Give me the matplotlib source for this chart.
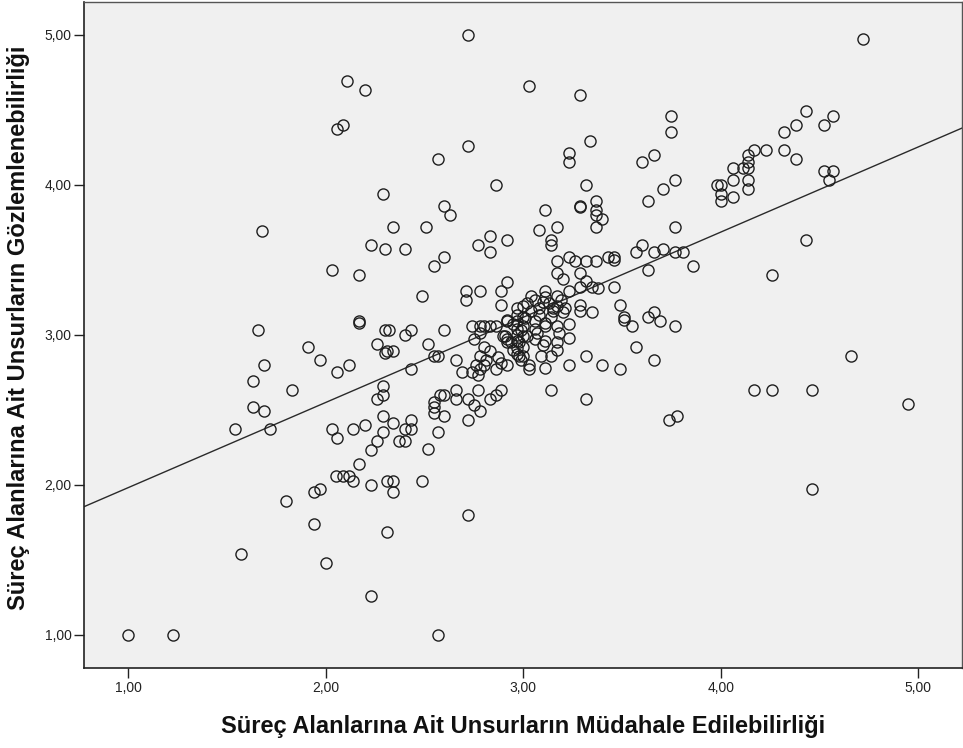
import matplotlib
matplotlib.use('Agg')
import matplotlib.pyplot as plt
import numpy as np
from matplotlib.ticker import FuncFormatter

# scatter values, grouped by region (x, y)
pts_high = [
    (2.11, 4.69), (2.20, 4.63), (2.09, 4.40), (2.06, 4.37), (2.29, 3.94), (1.68, 3.69),
    (2.72, 5.00), (3.03, 4.66), (3.29, 4.60), (3.75, 4.46), (3.75, 4.35), (2.72, 4.26),
    (2.57, 4.17), (3.34, 4.29), (3.23, 4.21), (3.23, 4.15), (3.60, 4.15), (3.66, 4.20),
    (2.86, 4.00), (3.32, 4.00), (2.60, 3.86), (2.63, 3.80), (3.11, 3.83), (3.29, 3.86),
    (3.29, 3.85), (3.37, 3.89), (3.37, 3.83), (3.37, 3.80), (3.40, 3.77), (3.63, 3.89),
    (3.71, 3.97), (3.77, 4.03), (2.34, 3.72), (2.51, 3.72), (3.08, 3.70), (3.17, 3.72),
    (3.37, 3.72), (3.77, 3.72),
    (4.72, 4.97), (4.43, 4.49), (4.38, 4.40), (4.32, 4.35), (4.52, 4.40), (4.57, 4.46),
    (4.23, 4.23), (4.32, 4.23), (4.38, 4.17), (4.17, 4.23), (4.14, 4.20), (4.14, 4.15),
    (4.14, 4.11), (4.11, 4.11), (4.06, 4.11), (4.06, 4.03), (4.14, 4.03), (4.14, 3.97),
    (3.98, 4.00), (4.00, 4.00), (4.00, 3.94), (4.00, 3.89), (4.06, 3.92), (4.52, 4.09),
    (4.57, 4.09), (4.55, 4.03),
    (2.23, 3.60), (2.30, 3.57), (2.40, 3.57), (2.83, 3.66), (2.77, 3.60), (2.83, 3.55),
    (2.92, 3.63), (3.14, 3.63), (3.14, 3.60), (3.60, 3.60), (3.66, 3.55), (3.71, 3.57),
    (3.77, 3.55), (3.57, 3.55), (3.81, 3.55), (4.43, 3.63),
]

pts_mid = [
    (2.03, 3.43), (2.17, 3.40), (2.17, 3.09), (2.17, 3.08), (2.30, 3.03), (2.26, 2.94),
    (2.30, 2.88), (1.66, 3.03), (1.91, 2.92), (1.97, 2.83), (2.06, 2.75), (2.12, 2.80),
    (1.69, 2.80), (1.63, 2.69), (1.83, 2.63), (1.63, 2.52), (1.69, 2.49), (1.54, 2.37),
    (1.72, 2.37), (2.03, 2.37), (2.06, 2.31), (2.14, 2.37), (2.20, 2.40), (2.29, 2.66),
    (2.29, 2.60), (2.26, 2.57), (2.29, 2.46), (2.29, 2.35), (2.26, 2.29), (2.23, 2.23),
    (2.55, 3.46), (2.60, 3.52), (2.49, 3.26), (2.71, 3.29), (2.71, 3.23), (2.78, 3.29),
    (2.89, 3.29), (2.92, 3.35), (2.89, 3.20),
    (3.17, 3.49), (3.23, 3.52), (3.26, 3.49), (3.32, 3.49), (3.37, 3.49), (3.43, 3.52),
    (3.46, 3.52), (3.46, 3.50), (3.17, 3.41), (3.20, 3.37), (3.29, 3.41), (3.32, 3.36),
    (3.35, 3.32), (3.38, 3.31), (3.29, 3.32), (3.23, 3.29), (3.46, 3.32), (3.49, 3.20),
    (3.51, 3.12), (3.51, 3.10), (3.55, 3.06), (3.63, 3.43), (3.63, 3.12), (3.66, 3.15),
    (3.69, 3.09), (3.77, 3.06), (3.57, 2.92), (3.66, 2.83), (3.49, 2.77), (3.40, 2.80),
    (3.32, 2.86), (3.23, 2.80), (3.14, 2.63), (3.32, 2.57), (3.74, 2.43), (3.78, 2.46),
    (3.29, 3.20), (3.29, 3.16), (3.35, 3.15), (3.86, 3.46), (4.26, 3.40), (4.66, 2.86),
    (4.17, 2.63), (4.26, 2.63), (4.46, 2.63), (4.95, 2.54), (4.46, 1.97),
]

pts_core = [
    (3.11, 3.29), (3.17, 3.26), (3.06, 3.23), (3.02, 3.21), (3.11, 3.25), (3.13, 3.21),
    (3.17, 3.19), (3.08, 3.18), (3.15, 3.16), (3.20, 3.15), (3.14, 3.12), (3.11, 3.08),
    (2.97, 3.18), (2.97, 3.13), (2.97, 3.09), (2.97, 3.04), (2.97, 3.00), (2.97, 2.96),
    (2.97, 2.91), (2.97, 2.87),
    (3.00, 3.19), (3.00, 3.12), (3.00, 3.06), (3.00, 2.99), (3.00, 2.92), (3.00, 2.86),
    (3.06, 3.09), (3.06, 3.04), (3.06, 2.97), (3.02, 2.99), (2.92, 3.09), (2.92, 2.97),
    (2.94, 2.95), (2.90, 2.99), (2.95, 2.90), (2.98, 2.86), (2.99, 2.83), (3.03, 2.80),
    (3.03, 2.77), (3.11, 3.06), (3.17, 3.06), (3.18, 3.01), (3.23, 3.07), (3.23, 2.98),
    (3.11, 2.96), (3.17, 2.95), (3.17, 2.90), (3.09, 2.86), (3.14, 2.86), (3.11, 2.78),
    (3.04, 3.26), (3.08, 3.13), (3.10, 3.22), (3.15, 3.18), (3.19, 3.23), (3.21, 3.18),
    (3.04, 3.16), (3.01, 3.11), (2.99, 3.03), (2.95, 3.07), (3.07, 3.01), (3.10, 2.93),
    (2.98, 2.95),
    (2.92, 3.10), (2.86, 3.06), (2.74, 3.06), (2.78, 3.06), (2.80, 3.06), (2.78, 3.01),
    (2.83, 3.06), (2.75, 2.97), (2.91, 2.99), (2.92, 2.95), (2.80, 2.92), (2.83, 2.89),
    (2.78, 2.86), (2.81, 2.83), (2.76, 2.80), (2.80, 2.80), (2.87, 2.85), (2.89, 2.81),
    (2.92, 2.80), (2.86, 2.77), (2.77, 2.73), (2.74, 2.75), (2.69, 2.75), (2.66, 2.83),
    (2.52, 2.94), (2.60, 3.03), (2.55, 2.86), (2.57, 2.86), (2.43, 2.77), (2.32, 3.03),
    (2.40, 3.00), (2.43, 3.03), (2.31, 2.89), (2.34, 2.89), (2.78, 2.77),
]

pts_low = [
    (2.77, 2.63), (2.72, 2.57), (2.66, 2.63), (2.66, 2.57), (2.60, 2.60), (2.58, 2.60),
    (2.55, 2.55), (2.55, 2.52), (2.55, 2.48), (2.60, 2.46), (2.72, 2.43), (2.78, 2.49),
    (2.75, 2.53), (2.83, 2.57), (2.86, 2.60), (2.89, 2.63), (2.43, 2.43), (2.40, 2.37),
    (2.43, 2.37), (2.34, 2.41), (2.37, 2.29), (2.40, 2.29), (2.57, 2.35), (2.52, 2.24),
    (2.17, 2.14), (2.05, 2.06), (2.09, 2.06), (2.12, 2.06), (2.14, 2.03), (2.23, 2.00),
    (2.31, 2.03), (2.31, 1.69), (1.97, 1.97), (1.94, 1.95), (1.80, 1.89), (1.94, 1.74),
    (1.57, 1.54), (2.00, 1.48), (2.23, 1.26), (1.00, 1.00), (1.23, 1.00), (2.34, 2.03),
    (2.49, 2.03), (2.34, 1.95), (2.72, 1.80), (2.57, 1.00),
]

# fit line
fit_intercept = 1.414
fit_slope = 0.568

x_ticks = [1, 2, 3, 4, 5]
y_ticks = [1, 2, 3, 4, 5]
x_label = 'Süreç Alanlarına Ait Unsurların Müdahale Edilebilirliği'
y_label = 'Süreç Alanlarına Ait Unsurların Gözlemlenebilirliği'

pts = np.array(pts_high + pts_mid + pts_core + pts_low)

fig = plt.figure(figsize=(9.63, 7.48), dpi=100)
ax = fig.add_axes([84 / 963, 80 / 748, 878 / 963, 666 / 748])
ax.set_facecolor('#f0f0f0')

ax.plot(pts[:, 0], pts[:, 1], 'o', ms=8, mfc='none', mec='#1e1e1e', mew=1.0, zorder=3)

xlim = (0.777, 5.221)
ax.plot(xlim, [fit_intercept + fit_slope * v for v in xlim], color='#2a2a2a', lw=1.0, zorder=2)

ax.set_xlim(*xlim)
ax.set_ylim(0.78, 5.22)
ax.set_xticks(x_ticks)
ax.set_yticks(y_ticks)
fmt = FuncFormatter(lambda v, p: f'{v:.2f}'.replace('.', ','))
ax.xaxis.set_major_formatter(fmt)
ax.yaxis.set_major_formatter(fmt)
ax.tick_params(direction='out', length=7, width=1, color='#222222', labelsize=10, labelcolor='#222222', pad=2)
for lab in ax.get_xticklabels() + ax.get_yticklabels():
    lab.set_family(['Liberation Sans', 'DejaVu Sans'])

for s in ['top', 'right']:
    ax.spines[s].set_linewidth(1.0)
    ax.spines[s].set_color('#555555')
for s in ['left', 'bottom']:
    ax.spines[s].set_linewidth(1.2)
    ax.spines[s].set_color('#222222')

lbl_font = dict(family=['Liberation Sans', 'DejaVu Sans'], fontsize=17, fontweight='bold', color='#111111')
ax.set_xlabel(x_label, **lbl_font)
ax.set_ylabel(y_label, **lbl_font)
ax.xaxis.label.set_va('center')
ax.yaxis.label.set_va('center')
ax.xaxis.set_label_coords(0.5, (668 - 727) / 666)
ax.yaxis.set_label_coords((19 - 84) / 878, (668 - 328) / 666)

fig.savefig('out.png', dpi=100)
